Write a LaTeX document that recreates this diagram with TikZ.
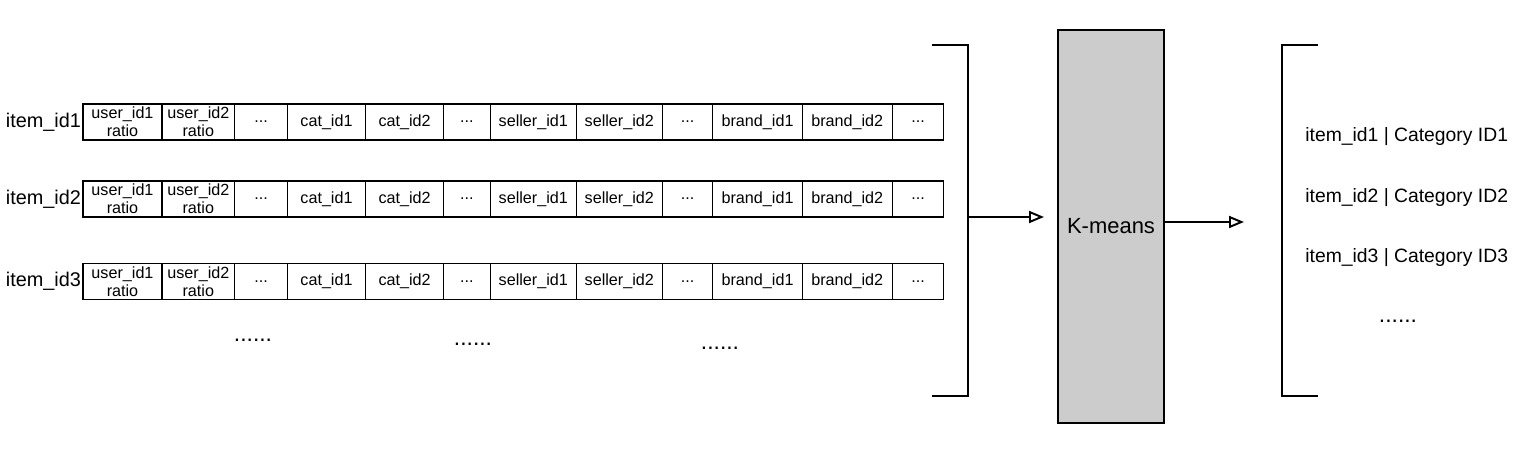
\documentclass[tikz,border=0pt]{standalone}
\usepackage{fontspec}
\setmainfont{Liberation Sans}
\usetikzlibrary{positioning,arrows.meta}

\definecolor{kmgray}{HTML}{CCCCCC}
\tikzset{cell/.style={draw, line width=0.7pt, minimum height=0.72cm, inner sep=0pt, outer sep=0pt, align=center, font=\fontsize{9.2}{10}\selectfont}}
\tikzset{itemlab/.style={anchor=east, inner sep=1pt, font=\fontsize{11.3}{13}\selectfont}}
\tikzset{brk/.style={line width=0.9pt}}
\tikzset{brkbox/.style={minimum width=0.72cm, minimum height=7.02cm, inner sep=0pt, outer sep=0pt}}
\tikzset{kmbox/.style={draw, line width=0.9pt, fill=kmgray, minimum width=2.12cm, minimum height=7.86cm, font=\fontsize{12.5}{14}\selectfont}}
\tikzset{arr/.style={line width=1.1pt, -{Triangle[open, length=0.3cm, width=0.24cm]}}}
\tikzset{outlab/.style={anchor=west, inner sep=0pt, font=\fontsize{11}{13}\selectfont}}
\tikzset{more/.style={anchor=base, inner sep=0pt, font=\fontsize{13}{14}\selectfont}}

\begin{document}
\begin{tikzpicture}[x=0.02cm, y=-0.02cm]
  \useasboundingbox (0,0) rectangle (1518,449);
  % feature rows
  \foreach \r/\y in {1/122, 2/199, 3/281.5} {
    \node [itemlab] (item\r) at (83,\y) {item\_id\r};
    \node [cell, minimum width=1.58cm, anchor=west] (c\r-1) at (83,\y) {user\_id1\\ratio};
    \node [cell, minimum width=1.454cm, right=0pt of c\r-1] (c\r-2) {user\_id2\\ratio};
    \node [cell, minimum width=1.054cm, right=0pt of c\r-2] (c\r-3) {...};
    \node [cell, minimum width=1.566cm, right=0pt of c\r-3] (c\r-4) {cat\_id1};
    \node [cell, minimum width=1.56cm, right=0pt of c\r-4] (c\r-5) {cat\_id2};
    \node [cell, minimum width=0.934cm, right=0pt of c\r-5] (c\r-6) {...};
    \node [cell, minimum width=1.72cm, right=0pt of c\r-6] (c\r-7) {seller\_id1};
    \node [cell, minimum width=1.72cm, right=0pt of c\r-7] (c\r-8) {seller\_id2};
    \node [cell, minimum width=1.012cm, right=0pt of c\r-8] (c\r-9) {...};
    \node [cell, minimum width=1.788cm, right=0pt of c\r-9] (c\r-10) {brand\_id1};
    \node [cell, minimum width=1.8cm, right=0pt of c\r-10] (c\r-11) {brand\_id2};
    \node [cell, minimum width=1.032cm, right=0pt of c\r-11] (c\r-12) {...};
  }
  \node [more] (more1) at (253,341) {......};
  \node [more] (more2) at (473,345) {......};
  \node [more] (more3) at (720,349) {......};

  % input bracket
  \node [brkbox] (inbrk) at (950,220.5) {};
  \draw [brk] (inbrk.north west) -- (inbrk.north east) -- (inbrk.south east) -- (inbrk.south west);

  \node [kmbox] (km) at (1111,226.5) {K-means};

  % output bracket
  \node [brkbox] (outbrk) at (1300,220.5) {};
  \draw [brk] (outbrk.north east) -- (outbrk.north west) -- (outbrk.south west) -- (outbrk.south east);
  \node [outlab] (res1) at (1305,137) {item\_id1 | Category ID1};
  \node [outlab] (res2) at (1305,198) {item\_id2 | Category ID2};
  \node [outlab] (res3) at (1305,258) {item\_id3 | Category ID3};
  \node [more] (more4) at (1398,322) {......};

  \coordinate (kmin) at (1044,217);
  \coordinate (kmout) at (1244,222);
  \draw [arr] (inbrk.east |- kmin) -- (kmin);
  \draw [arr] (km.east |- kmout) -- (kmout);
\end{tikzpicture}
\end{document}
